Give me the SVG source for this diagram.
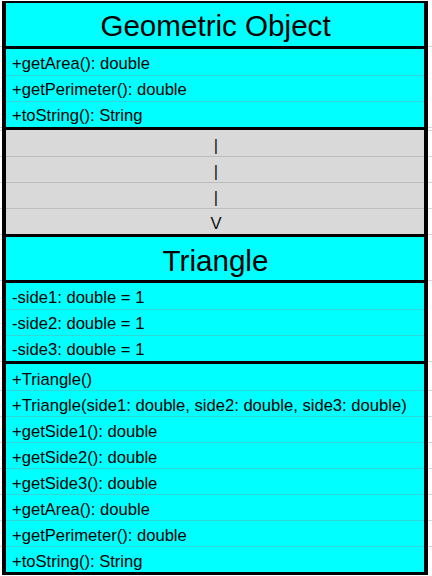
<svg xmlns="http://www.w3.org/2000/svg" width="432" height="576" viewBox="0 0 432 576">
  <style>
    .cy { fill: #00ffff; }
    .gr { fill: #d9d9d9; }
    .sepc { stroke: #2fd9d9; stroke-width: 1; }
    .sepg { stroke: #bdbdbd; stroke-width: 1; }
    .grid { stroke: #d6d6d6; stroke-width: 1; }
    .t { font-family: "Liberation Sans", Arial, sans-serif; font-size: 16.6px; fill: #000; }
    .title { font-family: "Liberation Sans", Arial, sans-serif; font-size: 29.6px; fill: #000; text-anchor: middle; }
    .arr { font-family: "Liberation Sans", Arial, sans-serif; font-size: 16.6px; fill: #111; text-anchor: middle; }
  </style>
  <rect x="0" y="0" width="432" height="576" fill="#ffffff"/>
  <g id="background-grid">
    <line class="grid" x1="0" y1="46.5" x2="432" y2="46.5"/>
    <line class="grid" x1="0" y1="127.5" x2="432" y2="127.5"/>
    <line class="grid" x1="0" y1="130.5" x2="432" y2="130.5"/>
    <line class="grid" x1="0" y1="156.5" x2="432" y2="156.5"/>
    <line class="grid" x1="0" y1="182.5" x2="432" y2="182.5"/>
    <line class="grid" x1="0" y1="208.5" x2="432" y2="208.5"/>
    <line class="grid" x1="0" y1="234.5" x2="432" y2="234.5"/>
    <line class="grid" x1="0" y1="280.5" x2="432" y2="280.5"/>
    <line class="grid" x1="0" y1="361.5" x2="432" y2="361.5"/>
    <line class="grid" x1="0" y1="390.5" x2="432" y2="390.5"/>
    <line class="grid" x1="0" y1="416.5" x2="432" y2="416.5"/>
    <line class="grid" x1="0" y1="442.5" x2="432" y2="442.5"/>
    <line class="grid" x1="0" y1="468.5" x2="432" y2="468.5"/>
    <line class="grid" x1="0" y1="494.5" x2="432" y2="494.5"/>
    <line class="grid" x1="0" y1="520.5" x2="432" y2="520.5"/>
    <line class="grid" x1="0" y1="546.5" x2="432" y2="546.5"/>
  </g>
  <rect id="frame" x="2" y="1" width="426" height="574" fill="#000000"/>
  <g id="GeometricObject">
    <rect class="cy" x="6" y="3" width="418" height="43"/>
    <text class="title" x="215.5" y="36">Geometric Object</text>
    <rect class="cy" x="6" y="49" width="418" height="78"/>
    <line class="sepc" x1="6" y1="75.5" x2="424" y2="75.5"/>
    <line class="sepc" x1="6" y1="101.5" x2="424" y2="101.5"/>
    <text class="t" x="12" y="69">+getArea(): double</text>
    <text class="t" x="12" y="95">+getPerimeter(): double</text>
    <text class="t" x="12" y="121">+toString(): String</text>
  </g>
  <g id="connectors">
    <rect class="gr" x="6" y="130" width="418" height="104"/>
    <line class="sepg" x1="6" y1="156.5" x2="424" y2="156.5"/>
    <line class="sepg" x1="6" y1="182.5" x2="424" y2="182.5"/>
    <line class="sepg" x1="6" y1="208.5" x2="424" y2="208.5"/>
    <text class="arr" x="216" y="150.5">|</text>
    <text class="arr" x="216" y="176.5">|</text>
    <text class="arr" x="216" y="202.5">|</text>
    <text class="arr" x="216" y="228.5">V</text>
  </g>
  <g id="Triangle">
    <rect class="cy" x="6" y="237" width="418" height="43"/>
    <text class="title" x="215.5" y="271">Triangle</text>
    <rect class="cy" x="6" y="283" width="418" height="78"/>
    <line class="sepc" x1="6" y1="309.5" x2="424" y2="309.5"/>
    <line class="sepc" x1="6" y1="335.5" x2="424" y2="335.5"/>
    <text class="t" x="12" y="303">-side1: double = 1</text>
    <text class="t" x="12" y="329">-side2: double = 1</text>
    <text class="t" x="12" y="355">-side3: double = 1</text>
    <rect class="cy" x="6" y="364" width="418" height="208"/>
    <line class="sepc" x1="6" y1="390.5" x2="424" y2="390.5"/>
    <line class="sepc" x1="6" y1="416.5" x2="424" y2="416.5"/>
    <line class="sepc" x1="6" y1="442.5" x2="424" y2="442.5"/>
    <line class="sepc" x1="6" y1="468.5" x2="424" y2="468.5"/>
    <line class="sepc" x1="6" y1="494.5" x2="424" y2="494.5"/>
    <line class="sepc" x1="6" y1="520.5" x2="424" y2="520.5"/>
    <line class="sepc" x1="6" y1="546.5" x2="424" y2="546.5"/>
    <text class="t" x="12" y="384.5">+Triangle()</text>
    <text class="t" x="12" y="410.5">+Triangle(side1: double, side2: double, side3: double)</text>
    <text class="t" x="12" y="436.5">+getSide1(): double</text>
    <text class="t" x="12" y="462.5">+getSide2(): double</text>
    <text class="t" x="12" y="488.5">+getSide3(): double</text>
    <text class="t" x="12" y="514.5">+getArea(): double</text>
    <text class="t" x="12" y="540.5">+getPerimeter(): double</text>
    <text class="t" x="12" y="566.5">+toString(): String</text>
  </g>
</svg>
